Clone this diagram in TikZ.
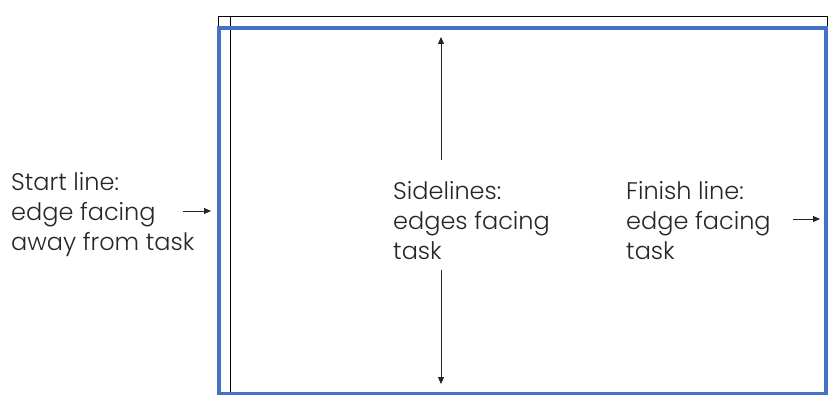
\documentclass[tikz,border=0pt]{standalone}
\usepackage{fontspec}
\setmainfont{Poppins}[UprightFont=* Light]
\usetikzlibrary{arrows.meta}
\definecolor{frameblue}{HTML}{4472C4}
\definecolor{txt}{HTML}{262626}
\tikzset{
  lbl/.style={align=left, anchor=north west, inner sep=0pt, text=txt,
    font=\fontsize{24}{30}\selectfont},
  arr/.style={draw=black!85, line width=0.9pt, -{Triangle[length=7pt,width=6pt]}},
  thin/.style={draw=black, line width=0.9pt},
  blue/.style={draw=frameblue, line width=3.6pt}
}
\begin{document}
\begin{tikzpicture}[x=1pt,y=-1pt]
\useasboundingbox (0,0) rectangle (829,396);
% outer black frame and inner line
\draw[thin] (218,16) rectangle (827,394);
\draw[thin] (230,16) -- (230,394);
% blue frame
\draw[blue] (219,28) rectangle (826,393.5);
% labels
\node[lbl] (start) at (11,172) {Start line:\\edge facing\\away from task};
\node[lbl] (side) at (393,181) {Sidelines:\\edges facing\\task};
\node[lbl] (finish) at (626,181) {Finish line:\\edge facing\\task};
% arrow coordinates
\coordinate (sa) at (183,211);
\coordinate (sb) at (211,211);
\coordinate (fa) at (793,219);
\coordinate (fb) at (820,219);
\coordinate (ua) at (441,160);
\coordinate (ub) at (441,37);
\coordinate (da) at (441,270);
\coordinate (db) at (441,384);
\draw[arr] (sa) -- (sb);
\draw[arr] (fa) -- (fb);
\draw[arr] (ua) -- (ub);
\draw[arr] (da) -- (db);
\end{tikzpicture}
\end{document}
